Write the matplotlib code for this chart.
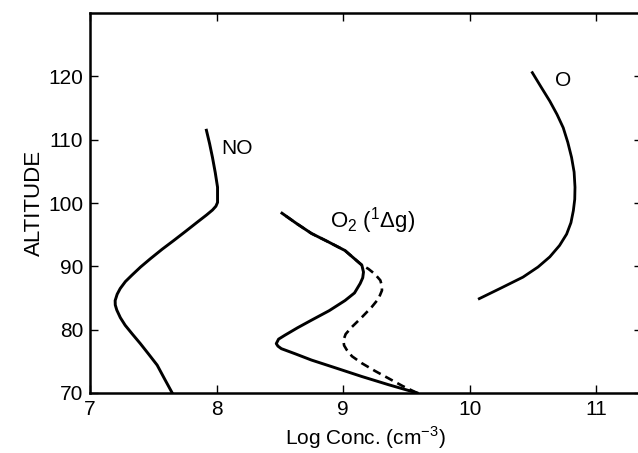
import matplotlib
matplotlib.use("Agg")
import matplotlib.pyplot as plt

plt.rcParams['font.family'] = ['Liberation Sans', 'DejaVu Sans']
plt.rcParams['mathtext.fontset'] = 'custom'
plt.rcParams['mathtext.rm'] = 'Liberation Sans'

# NO profile (log conc, altitude)
no_x = [7.65, 7.59, 7.531, 7.465, 7.398, 7.335, 7.278, 7.24, 7.212, 7.20, 7.199, 7.215,
        7.239, 7.28, 7.331, 7.40, 7.477, 7.57, 7.663, 7.76, 7.849, 7.92, 7.968, 7.995,
        8.008, 8.008, 7.99, 7.968, 7.945, 7.92]
no_y = [70, 72.2, 74.4, 76.1, 77.8, 79.3, 80.7, 81.9, 83.1, 83.9, 84.6, 85.6,
        86.5, 87.6, 88.6, 89.9, 91.2, 92.7, 94.1, 95.6, 97.0, 98.1, 98.9, 99.5,
        100.1, 102.5, 104.8, 107.2, 109.4, 111.5]

# O2(1 delta g), solid
o2_x = [9.585, 9.36, 9.148, 8.95, 8.75, 8.62, 8.512, 8.485, 8.472, 8.49, 8.538, 8.64,
        8.75, 8.89, 9.015, 9.09, 9.135, 9.155, 9.161, 9.148, 9.09, 9.015, 8.88, 8.75,
        8.63, 8.517]
o2_y = [70, 71.3, 72.6, 73.9, 75.2, 76.2, 77.0, 77.4, 77.8, 78.5, 79.1, 80.3,
        81.5, 83.0, 84.6, 85.8, 87.3, 88.2, 89.1, 90.2, 91.2, 92.5, 93.9, 95.2,
        96.8, 98.4]

# O2(1 delta g), dashed
o2d_x = [9.585, 9.47, 9.36, 9.25, 9.148, 9.07, 9.029, 9.008, 9.002, 9.02, 9.068, 9.15,
         9.227, 9.28, 9.307, 9.305, 9.294, 9.25, 9.20, 9.148, 9.09, 9.015, 8.88, 8.75,
         8.63, 8.517]
o2d_y = [70, 71.1, 72.3, 73.5, 74.7, 75.8, 76.8, 77.5, 78.3, 79.3, 80.4, 82.0,
         83.6, 84.9, 86.2, 87.0, 87.8, 88.8, 89.6, 90.2, 91.2, 92.5, 93.9, 95.2,
         96.8, 98.4]

# atomic O
o_x = [10.076, 10.25, 10.421, 10.54, 10.633, 10.71, 10.766, 10.80, 10.819, 10.83,
       10.832, 10.825, 10.805, 10.775, 10.739, 10.69, 10.633, 10.565, 10.495]
o_y = [84.9, 86.6, 88.3, 89.9, 91.5, 93.3, 95.1, 96.9, 98.8, 100.6,
       102.5, 104.9, 107.2, 109.6, 111.9, 114.0, 116.1, 118.3, 120.6]

xticks = [7, 8, 9, 10, 11]
yticks = [70, 80, 90, 100, 110, 120]

fig = plt.figure(figsize=(6.38, 4.53), dpi=100)
ax = fig.add_axes([0.141, 0.1325, 0.865, 0.8385])

ax.plot(no_x, no_y, color='black', lw=2.1, solid_joinstyle='round')
ax.plot(o2_x, o2_y, color='black', lw=2.1, solid_joinstyle='round')
ax.plot(o2d_x, o2d_y, color='black', lw=1.9, dashes=(3.2, 2.0))
ax.plot(o_x, o_y, color='black', lw=2.0, solid_joinstyle='round')

ax.text(8.16, 108.6, 'NO', fontsize=15, ha='center', va='center')
ax.text(10.74, 119.3, 'O', fontsize=15, ha='center', va='center')
ax.text(8.9, 97.3, r'O$_2$ ($^1\Delta$g)', fontsize=16, ha='left', va='center')

ax.set_xlim(7, 11.36)
ax.set_ylim(70, 130)
ax.set_xticks(xticks)
ax.set_yticks(yticks)
ax.tick_params(direction='in', length=6, width=1, labelsize=15,
               top=True, right=True, pad=5)
for s in ax.spines.values():
    s.set_linewidth(1.8)

ax.set_xlabel(r'Log Conc. (cm$^{-3}$)', fontsize=15, labelpad=4)
ax.set_ylabel('ALTITUDE', fontsize=16, labelpad=2)

fig.savefig('out.png', dpi=100)
